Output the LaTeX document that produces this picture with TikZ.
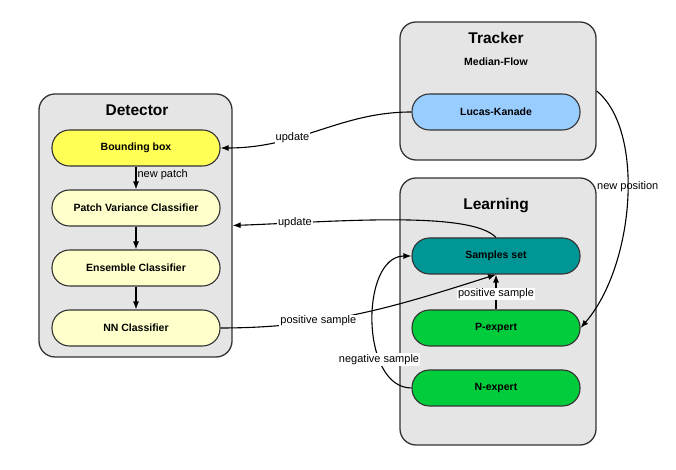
\documentclass[tikz,border=0pt]{standalone}
\usepackage{fontspec}
\setmainfont{Liberation Sans}
\usetikzlibrary{arrows.meta}

\definecolor{panelgray}{RGB}{229,229,229}
\definecolor{bbyellow}{RGB}{255,255,85}
\definecolor{paleyellow}{RGB}{255,255,204}
\definecolor{lkblue}{RGB}{153,204,255}
\definecolor{sampleteal}{RGB}{0,150,150}
\definecolor{expertgreen}{RGB}{0,204,60}
\definecolor{edgegray}{RGB}{51,51,51}

\tikzset{
  panel/.style={draw=edgegray, line width=1.3pt, fill=panelgray, rounded corners=16pt},
  stage/.style={draw=edgegray, line width=1.1pt, rounded corners=17.5pt,
    minimum width=168pt, minimum height=36pt, inner sep=0pt,
    font=\fontsize{10.5}{12}\selectfont\bfseries},
  title/.style={font=\fontsize{15.5}{18}\selectfont\bfseries},
  flow/.style={-{Latex[length=8pt,width=6pt]}, line width=1.1pt},
  tag/.style={font=\fontsize{11}{13}\selectfont, inner sep=1pt}
}

\begin{document}
\begin{tikzpicture}[x=1pt,y=1pt]
    \useasboundingbox (0,0) rectangle (676,470);
    % the three panels
    \node[panel, minimum width=193pt, minimum height=263pt] (detector) at (135.5,244.5) {};
    \node[panel, minimum width=196pt, minimum height=138pt] (tracker) at (498,379) {};
    \node[panel, minimum width=196pt, minimum height=267pt] (learning) at (498,158.5) {};
    \node[title] (t-det) at (137,360) {Detector};
    \node[title] (t-trk) at (496,432) {Tracker};
    \node[title] (t-lrn) at (496,264) {Learning};
    \node[font=\fontsize{10.5}{12}\selectfont\bfseries] (mflow) at (496,408) {Median-Flow};
    % detector stages
    \node[stage, fill=bbyellow] (bbox) at (136,322) {Bounding box};
    \node[stage, fill=paleyellow] (pvc) at (136,262) {Patch Variance Classifier};
    \node[stage, fill=paleyellow] (ens) at (136,202) {Ensemble Classifier};
    \node[stage, fill=paleyellow] (nnc) at (136,142) {NN Classifier};
    % tracker and learning stages
    \node[stage, fill=lkblue] (lk) at (496,358) {Lucas-Kanade};
    \node[stage, fill=sampleteal] (samples) at (496,214) {Samples set};
    \node[stage, fill=expertgreen] (pexp) at (496,142) {P-expert};
    \node[stage, fill=expertgreen] (nexp) at (496,82) {N-expert};
    % detector chain
    \draw[flow] (bbox) -- node[tag, right, pos=0.35] {new patch} (pvc);
    \foreach \a/\b in {pvc/ens, ens/nnc} {
      \draw[flow] (\a) -- (\b);
    }
    % updates to the detector
    \draw[flow] (lk.west) .. controls (340,358) and (300,322) ..
      node[tag, fill=white, pos=0.65] {update} (bbox.east);
    \draw[flow] (samples.north) .. controls (470,260) and (330,248) ..
      node[tag, fill=white, pos=0.8] {update} (detector.east);
    % samples
    \draw[flow] (nnc.east) .. controls (330,142) and (400,165) ..
      node[tag, fill=white, pos=0.33] {positive sample} (samples.south);
    \draw[flow] (pexp) -- node[tag, fill=white, pos=0.45] {positive sample} (samples);
    \draw[flow] (nexp.west) .. controls (360,82) and (360,214) ..
      node[tag, fill=white, pos=0.3] {negative sample} (samples.west);
    % tracker output
    \draw[flow] (tracker.east) .. controls (645,340) and (635,205) ..
      node[tag, pos=0.45] {new position} (pexp.east);
\end{tikzpicture}
\end{document}
